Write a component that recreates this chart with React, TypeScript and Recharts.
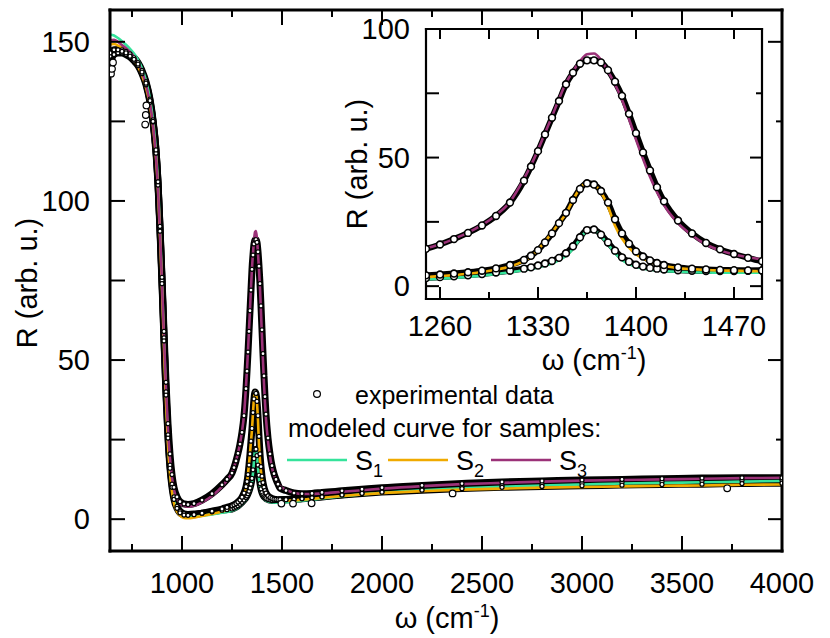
import { ComposedChart, Line, Scatter, XAxis, YAxis } from 'recharts';

// wavenumber grid (cm^-1), shared by all series
const omega = [
  640, 660, 680, 700, 720, 740, 760, 780, 800, 820,
  840, 855, 870, 880, 890, 900, 910, 920, 930, 940,
  950, 960, 975, 990, 1010, 1030, 1060, 1100, 1150, 1200,
  1225, 1250, 1260, 1270, 1280, 1290, 1300, 1310, 1320, 1325,
  1330, 1335, 1340, 1345, 1350, 1355, 1360, 1365, 1370, 1375,
  1380, 1385, 1390, 1395, 1400, 1405, 1410, 1415, 1420, 1430,
  1440, 1450, 1460, 1470, 1480, 1490, 1520, 1560, 1600, 1650,
  1700, 1800, 1900, 2000, 2200, 2400, 2600, 2800, 3000, 3200,
  3400, 3600, 3800, 4000,
];

// experimental reflectance
const s1Exp = [
  145.5, 147, 147.5, 147.5, 147, 146.2, 145, 143.5, 141, 137.5,
  132, 125.5, 116, 106, 91.5, 75, 57, 40, 26.5, 17,
  11, 7, 4, 2.5, 1.7, 1.5, 1.6, 1.9, 2.3, 2.8,
  3, 3.2, 3.5, 3.8, 4.2, 4.7, 5.3, 6, 6.8, 7.3,
  8, 8.8, 9.8, 11, 12.8, 15.5, 19, 21.8, 22, 20,
  17, 13.8, 11.2, 9.5, 8.3, 7.6, 7.1, 6.8, 6.5, 6.2,
  6, 5.9, 5.9, 5.9, 6, 6.1, 6.2, 6.3, 6.5, 6.8,
  7.1, 7.7, 8.3, 8.8, 9.5, 10.1, 10.6, 11, 11.3, 11.6,
  11.8, 12, 12.2, 12.3,
];
const s2Exp = [
  143, 146, 146.5, 146.5, 146, 145.2, 144, 142.5, 140, 136.5,
  131, 124.8, 115, 105, 90.5, 74, 56, 39, 25.5, 16,
  10, 6.2, 3.4, 2, 1.3, 1.2, 1.4, 1.9, 2.5, 3.2,
  3.7, 4.2, 4.5, 4.9, 5.4, 6, 6.9, 8.2, 10.2, 11.8,
  14, 17, 20.5, 24.5, 28.5, 33.5, 37.8, 40, 39.5, 37,
  32.5, 26, 20.5, 16.5, 13.5, 11.5, 10, 9, 8.2, 7.3,
  6.8, 6.5, 6.3, 6.2, 6.1, 6.1, 6.1, 6.2, 6.4, 6.7,
  7, 7.6, 8.1, 8.5, 9.1, 9.6, 10, 10.3, 10.5, 10.7,
  10.9, 11, 11.2, 11.3,
];
const s3Exp = [
  146.5, 147.5, 147.5, 147, 146.5, 145.5, 144.5, 143, 140.5, 137,
  131.5, 125, 116, 106, 92, 76, 59, 43, 30, 20.5,
  14, 10, 7, 5.5, 4.8, 4.6, 4.9, 6, 8, 10.8,
  12.5, 14.5, 16.2, 18.3, 20.7, 23.6, 27.3, 32.5, 41, 46.5,
  52.5, 59, 65.5, 72, 78.5, 83, 86.5, 87.8, 87.8, 87,
  84, 79.5, 74, 67, 59.5, 52, 45, 38.5, 33, 25.5,
  20.5, 16.8, 14.3, 12.5, 11, 9.7, 9, 8.2, 8, 8.1,
  8.4, 8.9, 9.4, 9.9, 10.6, 11.2, 11.7, 12, 12.3, 12.5,
  12.7, 12.9, 13, 13,
];

// modeled curves
const s1Fit = [
  152.3, 152, 151.2, 150.2, 149.1, 147.8, 146.3, 144.3, 141.6, 137.8,
  132, 125.5, 115.5, 105.5, 91, 74.5, 56, 39, 25, 15.5,
  9.5, 5.8, 3, 1.6, 0.9, 0.7, 0.8, 1.1, 1.5, 2,
  2.3, 2.6, 2.9, 3.2, 3.6, 4.1, 4.7, 5.4, 6.2, 6.7,
  7.3, 8, 8.8, 10, 11.8, 14.5, 18.3, 21.5, 21.8, 19.5,
  16.3, 12.8, 10.2, 8.6, 7.5, 6.9, 6.4, 6.1, 5.9, 5.6,
  5.4, 5.3, 5.25, 5.2, 5.2, 5.2, 5.3, 5.5, 5.8, 6.1,
  6.5, 7.2, 7.8, 8.3, 9.1, 9.7, 10.2, 10.6, 10.9, 11.2,
  11.4, 11.6, 11.8, 12,
];
const s2Fit = [
  149.2, 149.3, 148.8, 148, 147, 145.8, 144.3, 142.3, 139.5, 135.7,
  130, 123.5, 113.5, 103.5, 89, 72.5, 54, 37, 23.5, 14.5,
  8.5, 5, 2.4, 1.1, 0.4, 0.3, 0.5, 1, 1.6, 2.4,
  2.9, 3.5, 3.9, 4.3, 4.8, 5.5, 6.4, 7.6, 9.8, 11.5,
  14.2, 17.3, 20.8, 24.5, 28.2, 33.5, 38, 40.3, 39.6, 36.5,
  31, 23.5, 18.5, 15, 12.4, 10.8, 9.5, 8.4, 7.8, 7,
  6.6, 6.3, 6.1, 6, 5.9, 5.8, 5.8, 5.9, 6.1, 6.4,
  6.7, 7.3, 7.8, 8.2, 8.8, 9.3, 9.6, 9.9, 10.1, 10.3,
  10.5, 10.6, 10.8, 10.9,
];
const s3Fit = [
  150.5, 150.6, 150, 149, 148, 146.8, 145.3, 143.3, 140.5, 136.5,
  130.5, 124, 114, 104, 90, 74, 57, 41, 28, 19,
  13, 9.2, 6.4, 5, 4.2, 3.9, 4.2, 5.3, 7.3, 10.2,
  12.2, 14.7, 16.3, 18.4, 20.8, 23.8, 27.6, 32.8, 41.8, 47,
  53, 59.5, 66, 72.8, 79, 83.5, 87.5, 90.2, 90.5, 88,
  83.5, 78.5, 72.5, 65, 57, 49.5, 42.5, 36.5, 31.5, 24.5,
  19.8, 16.2, 13.9, 12.3, 11.2, 10.4, 9.2, 8.3, 7.9, 7.9,
  8.1, 8.6, 9.1, 9.6, 10.4, 11, 11.4, 11.8, 12.1, 12.3,
  12.5, 12.7, 12.9, 13,
];

// stray experimental points away from the main band
const strayOmega = [645, 650, 655, 816, 819, 822, 1497, 1555, 1648, 2353, 3726];
const strayR = [140, 141.5, 143.5, 124, 127, 130, 4.9, 4.9, 5, 8.1, 9.7];

const mainXTicks = [750, 1000, 1250, 1500, 1750, 2000, 2250, 2500, 2750, 3000, 3250, 3500, 3750, 4000];
const mainXLabels = [1000, 1500, 2000, 2500, 3000, 3500, 4000];
const mainYTicks = [0, 25, 50, 75, 100, 125, 150];
const mainYLabels = [0, 50, 100, 150];
const insetXTicks = [1260, 1295, 1330, 1365, 1400, 1435, 1470];
const insetXLabels = [1260, 1330, 1400, 1470];
const insetYTicks = [0, 25, 50, 75, 100];
const insetYLabels = [0, 50, 100];

const COLORS = { s1: '#35e39b', s2: '#f0aa00', s3: '#9b3278' };
const FONT = '"Liberation Sans", Arial, Helvetica, sans-serif';

// plot boxes (page pixels) and domains
const MAIN = { left: 110, top: 10, w: 672, h: 541, xd: [640, 4000] as [number, number], yd: [-10, 160] as [number, number] };
const INSET = { left: 426, top: 29, w: 336, h: 270, xd: [1250, 1490] as [number, number], yd: [-5, 100] as [number, number] };

const rows = omega.map((w, i) => ({
  w,
  e1: s1Exp[i],
  e2: s2Exp[i],
  e3: s3Exp[i],
  f1: s1Fit[i],
  f2: s2Fit[i],
  f3: s3Fit[i],
}));
const insetRows = rows.filter((r) => r.w >= 1225 && r.w <= 1520);
const strays = strayOmega.map((w, i) => ({ w, r: strayR[i] }));

// inward tick marks for the top / right frame axes
function tickMark(side: 'top' | 'right', labels: number[], major: number, minor: number, lw = 2) {
  return (props: any) => {
    const x = Number(props.x);
    const y = Number(props.y);
    const len = labels.includes(props.payload?.value) ? major : minor;
    const d = side === 'top' ? `M${x},${y}V${y + len}` : `M${x},${y}H${x - len}`;
    return <path d={d} stroke="#000" strokeWidth={lw} fill="none" />;
  };
}

// number labels only, no marks
function tickLabel(side: 'bottom' | 'left', labels: number[], gap: number) {
  return (props: any) => {
    const x = Number(props.x);
    const y = Number(props.y);
    const value = props.payload?.value;
    if (!labels.includes(value)) return <g />;
    return side === 'bottom' ? (
      <text x={x} y={y + gap} textAnchor="middle" fontSize={29} fontFamily={FONT} fill="#000">
        {value}
      </text>
    ) : (
      <text x={x - gap} y={y + 10} textAnchor="end" fontSize={29} fontFamily={FONT} fill="#000">
        {value}
      </text>
    );
  };
}

const expDot = (r: number, sw: number) => ({ r, fill: '#fff', stroke: '#000', strokeWidth: sw });

const bare = { tickSize: 0, tickMargin: 0, tickLine: false, interval: 0 as const, allowDataOverflow: true };
const noTick = () => <g />;

function MainChart() {
  const axisLine = { stroke: '#000', strokeWidth: 3, strokeLinecap: 'square' as const };
  const { xd, yd } = MAIN;
  return (
    <ComposedChart width={830} height={638} data={rows} margin={{ top: 9, right: 47, bottom: 0, left: 0 }}>
      {/* labelled axes used by the series (outer) */}
      <XAxis xAxisId="x" type="number" dataKey="w" domain={xd} ticks={mainXTicks} height={86} axisLine={false} tick={tickLabel('bottom', mainXLabels, 41)} {...bare} />
      <YAxis yAxisId="y" type="number" domain={yd} ticks={mainYTicks} width={109} axisLine={false} tick={tickLabel('left', mainYLabels, 19)} {...bare} />
      {/* frame */}
      <XAxis xAxisId="ax" type="number" dataKey="w" domain={xd} ticks={mainXTicks} height={1} axisLine={axisLine} tick={noTick} {...bare} />
      <XAxis xAxisId="at" orientation="top" type="number" dataKey="w" domain={xd} ticks={mainXTicks} height={1} axisLine={axisLine} tick={tickMark('top', mainXLabels, 15, 7)} {...bare} />
      <YAxis yAxisId="ay" type="number" domain={yd} ticks={mainYTicks} width={1} axisLine={axisLine} tick={noTick} {...bare} />
      <YAxis yAxisId="ar" orientation="right" type="number" domain={yd} ticks={mainYTicks} width={1} axisLine={axisLine} tick={tickMark('right', mainYLabels, 14, 6)} {...bare} />

      {(['e1', 'e2', 'e3'] as const).map((k) => (
        <Line
          key={k}
          xAxisId="x"
          yAxisId="y"
          type="monotone"
          dataKey={k}
          stroke="#000"
          strokeWidth={7}
          dot={expDot(2, 1.2)}
          activeDot={false}
          isAnimationActive={false}
        />
      ))}
      <Scatter
        xAxisId="x"
        yAxisId="y"
        data={strays}
        dataKey="r"
        isAnimationActive={false}
        shape={(p: any) => <circle cx={p.cx} cy={p.cy} r={3.3} fill="#fff" stroke="#000" strokeWidth={1.2} />}
      />
      <Line xAxisId="x" yAxisId="y" type="monotone" dataKey="f1" stroke={COLORS.s1} strokeWidth={2.6} dot={false} activeDot={false} isAnimationActive={false} />
      <Line xAxisId="x" yAxisId="y" type="monotone" dataKey="f2" stroke={COLORS.s2} strokeWidth={2.6} dot={false} activeDot={false} isAnimationActive={false} />
      <Line xAxisId="x" yAxisId="y" type="monotone" dataKey="f3" stroke={COLORS.s3} strokeWidth={2.6} dot={false} activeDot={false} isAnimationActive={false} />
    </ComposedChart>
  );
}

function InsetChart() {
  const axisLine = { stroke: '#000', strokeWidth: 2.2, strokeLinecap: 'square' as const };
  const { xd, yd } = INSET;
  return (
    <ComposedChart width={440} height={380} data={insetRows} margin={{ top: 28, right: 17, bottom: 0, left: 0 }}>
      <XAxis xAxisId="x" type="number" dataKey="w" domain={xd} ticks={insetXTicks} height={80} axisLine={false} tick={tickLabel('bottom', insetXLabels, 36)} {...bare} />
      <YAxis yAxisId="y" type="number" domain={yd} ticks={insetYTicks} width={85} axisLine={false} tick={tickLabel('left', insetYLabels, 15)} {...bare} />
      <XAxis xAxisId="ax" type="number" dataKey="w" domain={xd} ticks={insetXTicks} height={1} axisLine={axisLine} tick={noTick} {...bare} />
      <XAxis xAxisId="at" orientation="top" type="number" dataKey="w" domain={xd} ticks={insetXTicks} height={1} axisLine={axisLine} tick={tickMark('top', insetXLabels, 10, 10)} {...bare} />
      <YAxis yAxisId="ay" type="number" domain={yd} ticks={insetYTicks} width={1} axisLine={axisLine} tick={noTick} {...bare} />
      <YAxis yAxisId="ar" orientation="right" type="number" domain={yd} ticks={insetYTicks} width={1} axisLine={axisLine} tick={tickMark('right', insetYLabels, 12, 6)} {...bare} />

      {(['e1', 'e2', 'e3'] as const).map((k) => (
        <Line
          key={k}
          xAxisId="x"
          yAxisId="y"
          type="monotone"
          dataKey={k}
          stroke="#000"
          strokeWidth={6}
          dot={expDot(3.4, 1.6)}
          activeDot={false}
          isAnimationActive={false}
        />
      ))}
      <Line xAxisId="x" yAxisId="y" type="monotone" dataKey="f1" stroke={COLORS.s1} strokeWidth={2.6} dot={false} activeDot={false} isAnimationActive={false} />
      <Line xAxisId="x" yAxisId="y" type="monotone" dataKey="f2" stroke={COLORS.s2} strokeWidth={2.6} dot={false} activeDot={false} isAnimationActive={false} />
      <Line xAxisId="x" yAxisId="y" type="monotone" dataKey="f3" stroke={COLORS.s3} strokeWidth={2.6} dot={false} activeDot={false} isAnimationActive={false} />
    </ComposedChart>
  );
}

// bottom / left inward ticks of a plot box, placed with the same linear mapping as the axes
function BoxTicks(props: {
  box: typeof MAIN;
  xTicks: number[];
  xLabels: number[];
  yTicks: number[];
  yLabels: number[];
  bottom: [number, number];
  left: [number, number];
}) {
  const { box, xTicks, xLabels, yTicks, yLabels, bottom, left } = props;
  const px = (v: number) => box.left + ((v - box.xd[0]) / (box.xd[1] - box.xd[0])) * box.w;
  const py = (v: number) => box.top + ((box.yd[1] - v) / (box.yd[1] - box.yd[0])) * box.h;
  const yb = box.top + box.h;
  return (
    <g stroke="#000" strokeWidth={2}>
      {xTicks.map((v) => (
        <line key={`x${v}`} x1={px(v)} x2={px(v)} y1={yb} y2={yb - (xLabels.includes(v) ? bottom[0] : bottom[1])} />
      ))}
      {yTicks.map((v) => (
        <line key={`y${v}`} x1={box.left} x2={box.left + (yLabels.includes(v) ? left[0] : left[1])} y1={py(v)} y2={py(v)} />
      ))}
    </g>
  );
}

function Overlay() {
  const sample = (x: number, color: string, n: string) => (
    <g key={n}>
      <line x1={x} y1={460} x2={x + 60} y2={460} stroke={color} strokeWidth={2.6} />
      <text x={x + 68} y={470} fontSize={27} fontFamily={FONT}>
        S<tspan fontSize={18} dy={7}>{n}</tspan>
      </text>
    </g>
  );
  return (
    <svg width={830} height={638} style={{ position: 'absolute', left: 0, top: 0, pointerEvents: 'none' }}>
      <BoxTicks box={MAIN} xTicks={mainXTicks} xLabels={mainXLabels} yTicks={mainYTicks} yLabels={mainYLabels} bottom={[15, 7]} left={[15, 15]} />
      <BoxTicks box={INSET} xTicks={insetXTicks} xLabels={insetXLabels} yTicks={insetYTicks} yLabels={insetYLabels} bottom={[12, 7]} left={[13, 13]} />

      {/* axis titles */}
      <text x={447} y={628} textAnchor="middle" fontSize={29} fontFamily={FONT}>
        ω (cm<tspan fontSize={18} dy={-11}>-1</tspan><tspan dy={11}>)</tspan>
      </text>
      <text x={37} y={283} transform="rotate(-90 37 283)" textAnchor="middle" fontSize={29} fontFamily={FONT}>
        R (arb. u.)
      </text>
      <text x={594} y={370} textAnchor="middle" fontSize={29} fontFamily={FONT}>
        ω (cm<tspan fontSize={18} dy={-11}>-1</tspan><tspan dy={11}>)</tspan>
      </text>
      <text x={367} y={164} transform="rotate(-90 367 164)" textAnchor="middle" fontSize={29} fontFamily={FONT}>
        R (arb. u.)
      </text>

      {/* legend */}
      <circle cx={317} cy={394} r={3.4} fill="#fff" stroke="#000" strokeWidth={1.2} />
      <text x={355} y={404} fontSize={25} fontFamily={FONT}>experimental data</text>
      <text x={288} y={437} fontSize={25.5} fontFamily={FONT}>modeled curve for samples:</text>
      {sample(287, COLORS.s1, '1')}
      {sample(388, COLORS.s2, '2')}
      {sample(491, COLORS.s3, '3')}
    </svg>
  );
}

export default function App() {
  return (
    <div style={{ position: 'absolute', left: 0, top: 0, width: 830, height: 638, background: '#fff' }}>
      <div style={{ position: 'absolute', left: 0, top: 0 }}>
        <MainChart />
      </div>
      <div style={{ position: 'absolute', left: 340, top: 0 }}>
        <InsetChart />
      </div>
      <Overlay />
    </div>
  );
}
